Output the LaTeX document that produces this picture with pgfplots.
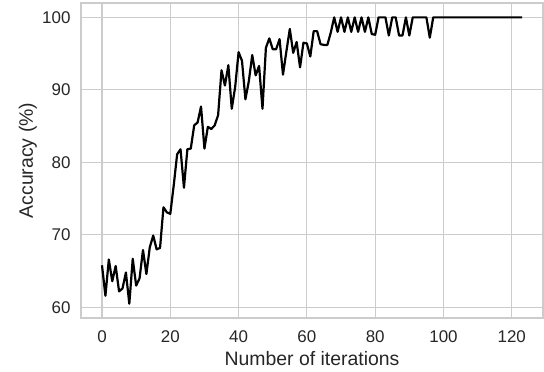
\documentclass[border=0pt]{standalone}
\usepackage{fontspec}
\setmainfont{Liberation Sans}
\usepackage{pgfplots}
\pgfplotsset{compat=1.18}
\usetikzlibrary{calc}
\definecolor{gridgray}{HTML}{CCCCCC}
\definecolor{txtgray}{HTML}{262626}
\begin{document}
\begin{tikzpicture}
\begin{axis}[
  scale only axis, width=462bp, height=315bp,
  xmin=-6.15, xmax=129.15, ymin=58.53, ymax=101.98,
  xtick={0,20,...,120}, ytick={60,70,80,90,100},
  grid=major, grid style={draw=gridgray, line width=1.1bp},
  axis line style={draw=gridgray, line width=1.25bp},
  major tick length=0pt, tick style={draw=none},
  /pgf/number format/assume math mode=true,
  ticklabel style={font=\fontsize{17}{20}\selectfont, text=txtgray},
  xticklabel style={yshift=-9bp},
  yticklabel style={xshift=-7bp},
  xlabel={Number of iterations},
  ylabel={Accuracy (\%)},
  every axis x label/.style={at={(rel axis cs:0.5,0)}, anchor=base, yshift=-47bp, text=txtgray, font=\fontsize{19.5}{23}\selectfont},
  every axis y label/.style={at={(rel axis cs:0,0.5)}, xshift=-48bp, rotate=90, anchor=base, text=txtgray, font=\fontsize{19.5}{23}\selectfont},
]
\addplot[black, line width=2.2bp, line join=round, mark=none] coordinates {
(0,65.8) (1,61.6) (2,66.6) (3,63.6) (4,65.7) (5,62.2) (6,62.6) (7,64.8) (8,60.5) (9,66.7)
(10,63.0) (11,64.0) (12,67.9) (13,64.6) (14,68.3) (15,69.9) (16,68.0) (17,68.2) (18,73.8) (19,73.1)
(20,72.9) (21,76.8) (22,81.1) (23,81.8) (24,76.5) (25,81.8) (26,81.9) (27,85.1) (28,85.5) (29,87.7)
(30,81.9) (31,84.9) (32,84.6) (33,85.1) (34,86.5) (35,92.7) (36,90.6) (37,93.4) (38,87.4) (39,90.4)
(40,95.2) (41,94.0) (42,88.7) (43,91.2) (44,94.8) (45,92.0) (46,93.3) (47,87.4) (48,95.8) (49,97.1)
(50,95.6) (51,95.6) (52,97.0) (53,92.1) (54,95.3) (55,98.4) (56,95.1) (57,96.6) (58,93.1) (59,96.5)
(60,96.4) (61,94.6) (62,98.1) (63,98.1) (64,96.3) (65,96.2) (66,96.2) (67,97.9) (68,100) (69,98.0)
(70,100) (71,98.0) (72,100) (73,98.0) (74,100) (75,98.0) (76,100) (77,98.0) (78,100) (79,97.7)
(80,97.6) (81,100) (82,100) (83,100) (84,97.5) (85,100) (86,100) (87,97.5) (88,97.5) (89,100)
(90,97.5) (91,100) (92,100) (93,100) (94,100) (95,100) (96,97.2) (97,100) (98,100) (99,100)
(100,100) (105,100) (110,100) (115,100) (120,100) (123,100)
};
\coordinate (SW) at (rel axis cs:0,0);
\coordinate (NE) at (rel axis cs:1,1);
\end{axis}
\pgfresetboundingbox
\path[use as bounding box] ($(SW)+(-81bp,-54bp)$) rectangle ($(NE)+(1bp,3bp)$);
\end{tikzpicture}
\end{document}
